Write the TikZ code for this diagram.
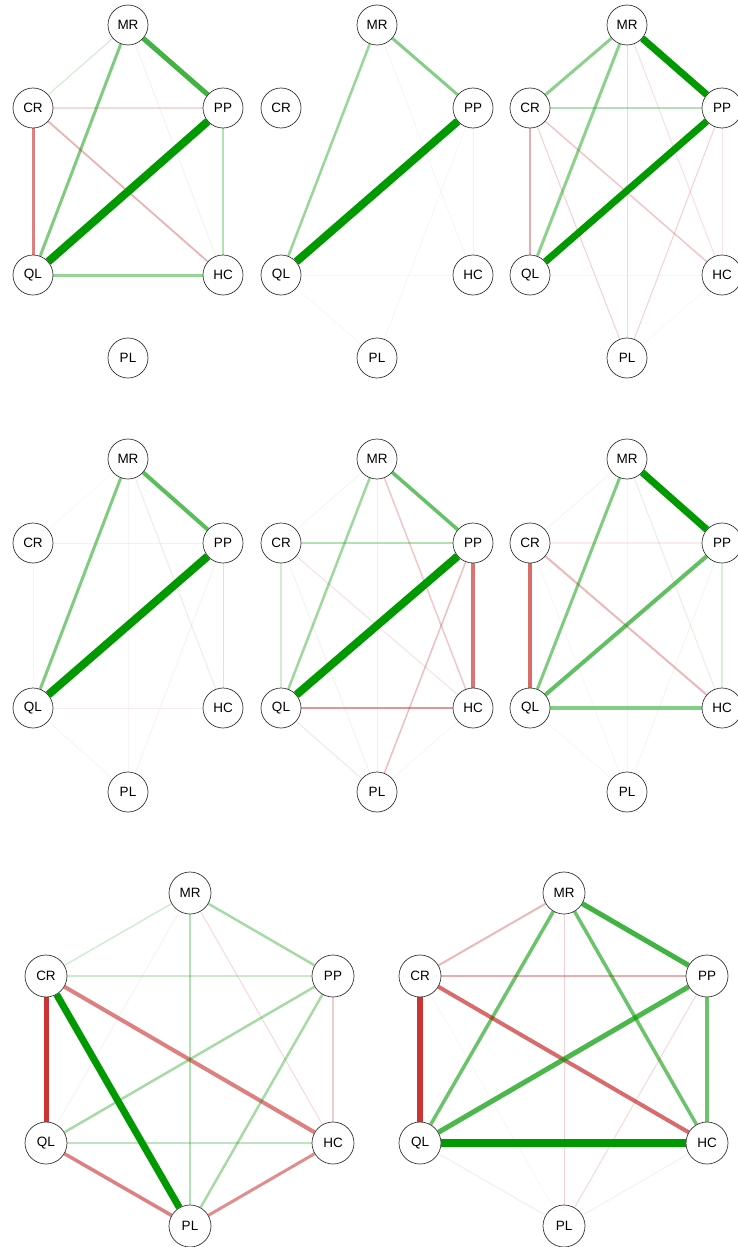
\documentclass[tikz,border=0pt]{standalone}
\usepackage{fontspec}
\setmainfont{Liberation Sans}
\definecolor{pos}{RGB}{0,153,0}
\definecolor{neg}{RGB}{191,0,0}
\tikzset{
  nd/.style={circle, draw=black!80, line width=0.7pt, fill=white, inner sep=0pt, font=\fontsize{13.5}{15}\selectfont},
}
\newcommand\mknodes[9]{%
  \node[nd, minimum size=#9] (#1MR) at (#3,#5) {MR};
  \node[nd, minimum size=#9] (#1CR) at (#2,#6) {CR};
  \node[nd, minimum size=#9] (#1PP) at (#4,#6) {PP};
  \node[nd, minimum size=#9] (#1QL) at (#2,#7) {QL};
  \node[nd, minimum size=#9] (#1HC) at (#4,#7) {HC};
  \node[nd, minimum size=#9] (#1PL) at (#3,#8) {PL};
}
% edge: from, to, color, intensity (percent opacity), width
\newcommand\ed[5]{\draw[line width=#5pt, draw=#3, draw opacity=#4/100] (#1) -- (#2);}
\begin{document}
\begin{tikzpicture}[x=1pt,y=-1pt]
\useasboundingbox (0,0) rectangle (738,1247);
\mknodes{a}{33}{128}{223}{25}{108}{275}{358}{40pt}
\mknodes{b}{281}{377}{473}{25}{108}{275}{358}{40pt}
\mknodes{c}{530}{627}{722}{25}{108}{275}{358}{40pt}
\mknodes{d}{33}{128}{223}{459}{543}{708}{792}{40pt}
\mknodes{e}{281}{377}{473}{459}{543}{708}{792}{40pt}
\mknodes{f}{530}{627}{722}{459}{543}{708}{792}{40pt}
\mknodes{g}{46}{190}{333}{893}{976}{1143}{1226}{42pt}
\mknodes{h}{420}{564}{707}{893}{976}{1143}{1226}{42pt}
% panel 1
\ed{aMR}{aPP}{pos}{75}{5}
\ed{aMR}{aCR}{pos}{20}{1}
\ed{aMR}{aQL}{pos}{50}{3}
\ed{aMR}{aHC}{pos}{10}{0.7}
\ed{aCR}{aPP}{neg}{15}{1.5}
\ed{aCR}{aQL}{neg}{50}{3}
\ed{aCR}{aHC}{neg}{30}{1.8}
\ed{aPP}{aQL}{pos}{100}{8}
\ed{aPP}{aHC}{pos}{30}{2}
\ed{aQL}{aHC}{pos}{42}{3}
% panel 2
\ed{bMR}{bPP}{pos}{48}{3}
\ed{bMR}{bQL}{pos}{40}{2.5}
\ed{bPP}{bQL}{pos}{100}{8}
\ed{bMR}{bHC}{black}{6}{0.5}
\ed{bPP}{bHC}{black}{5}{0.5}
\ed{bPP}{bPL}{black}{5}{0.5}
\ed{bQL}{bHC}{black}{3}{0.5}
\ed{bQL}{bPL}{black}{5}{0.5}
% panel 3
\ed{cMR}{cPP}{pos}{100}{7}
\ed{cMR}{cCR}{pos}{45}{3}
\ed{cMR}{cQL}{pos}{45}{3}
\ed{cMR}{cPL}{neg}{15}{1}
\ed{cMR}{cHC}{neg}{12}{1}
\ed{cCR}{cPP}{pos}{30}{2}
\ed{cCR}{cQL}{neg}{32}{2.5}
\ed{cCR}{cHC}{neg}{22}{1.5}
\ed{cCR}{cPL}{neg}{18}{1}
\ed{cPP}{cQL}{pos}{100}{7}
\ed{cPP}{cPL}{neg}{18}{1}
\ed{cPP}{cHC}{neg}{10}{1}
\ed{cQL}{cHC}{neg}{5}{1}
\ed{cHC}{cPL}{neg}{4}{0.7}
% panel 4
\ed{dMR}{dPP}{pos}{65}{4}
\ed{dMR}{dQL}{pos}{50}{3}
\ed{dPP}{dQL}{pos}{100}{8}
\ed{dMR}{dCR}{pos}{5}{0.6}
\ed{dMR}{dHC}{neg}{10}{1}
\ed{dMR}{dPL}{black}{4}{0.5}
\ed{dCR}{dPP}{neg}{7}{1}
\ed{dCR}{dQL}{black}{4}{0.5}
\ed{dPP}{dHC}{neg}{15}{1}
\ed{dPP}{dPL}{neg}{7}{0.7}
\ed{dQL}{dHC}{neg}{8}{1}
\ed{dQL}{dPL}{neg}{6}{0.7}
% panel 5
\ed{eMR}{ePP}{pos}{60}{3.5}
\ed{eMR}{eQL}{pos}{38}{2.5}
\ed{eMR}{eCR}{pos}{8}{0.7}
\ed{eMR}{ePL}{black}{6}{0.6}
\ed{eMR}{eHC}{neg}{22}{1.5}
\ed{eCR}{ePP}{pos}{30}{2}
\ed{eCR}{eQL}{pos}{18}{1.5}
\ed{eCR}{eHC}{neg}{12}{1}
\ed{eCR}{ePL}{neg}{8}{0.7}
\ed{ePP}{eQL}{pos}{100}{8}
\ed{ePP}{eHC}{neg}{55}{4}
\ed{ePP}{ePL}{neg}{25}{1.5}
\ed{eQL}{eHC}{neg}{42}{2.5}
\ed{eQL}{ePL}{neg}{12}{0.8}
\ed{eHC}{ePL}{black}{5}{0.5}
% panel 6
\ed{fMR}{fPP}{pos}{100}{7}
\ed{fMR}{fQL}{pos}{50}{3}
\ed{fMR}{fCR}{pos}{8}{0.7}
\ed{fMR}{fHC}{pos}{12}{1}
\ed{fMR}{fPL}{black}{4}{0.5}
\ed{fCR}{fPP}{neg}{7}{1.5}
\ed{fCR}{fQL}{neg}{58}{3.5}
\ed{fCR}{fHC}{neg}{28}{2}
\ed{fCR}{fPL}{black}{5}{0.5}
\ed{fPP}{fQL}{pos}{62}{4}
\ed{fPP}{fHC}{pos}{15}{1.5}
\ed{fPP}{fPL}{pos}{8}{0.7}
\ed{fQL}{fHC}{pos}{48}{3.5}
\ed{fQL}{fPL}{black}{5}{0.5}
% panel 7
\ed{gMR}{gCR}{pos}{18}{1.5}
\ed{gMR}{gPP}{pos}{35}{2.5}
\ed{gMR}{gPL}{pos}{30}{2}
\ed{gMR}{gQL}{pos}{8}{0.8}
\ed{gMR}{gHC}{neg}{15}{1}
\ed{gCR}{gPP}{pos}{20}{1.5}
\ed{gCR}{gQL}{neg}{80}{5}
\ed{gCR}{gPL}{pos}{100}{7}
\ed{gCR}{gHC}{neg}{50}{4}
\ed{gPP}{gQL}{pos}{35}{2.5}
\ed{gPP}{gPL}{pos}{35}{2.5}
\ed{gPP}{gHC}{neg}{20}{1.5}
\ed{gQL}{gHC}{pos}{25}{2}
\ed{gQL}{gPL}{neg}{50}{3.5}
\ed{gHC}{gPL}{neg}{45}{3}
% panel 8
\ed{hMR}{hCR}{neg}{28}{2}
\ed{hMR}{hPP}{pos}{75}{5}
\ed{hMR}{hQL}{pos}{58}{3.5}
\ed{hMR}{hHC}{pos}{58}{3.5}
\ed{hMR}{hPL}{neg}{18}{1}
\ed{hCR}{hPP}{neg}{32}{2.5}
\ed{hCR}{hQL}{neg}{80}{6}
\ed{hCR}{hHC}{neg}{58}{4}
\ed{hCR}{hPL}{neg}{5}{0.6}
\ed{hPP}{hQL}{pos}{70}{5}
\ed{hPP}{hHC}{pos}{58}{4}
\ed{hPP}{hPL}{neg}{15}{1}
\ed{hQL}{hHC}{pos}{100}{8}
\ed{hQL}{hPL}{neg}{10}{0.8}
\ed{hHC}{hPL}{neg}{8}{0.8}
\end{tikzpicture}
\end{document}
